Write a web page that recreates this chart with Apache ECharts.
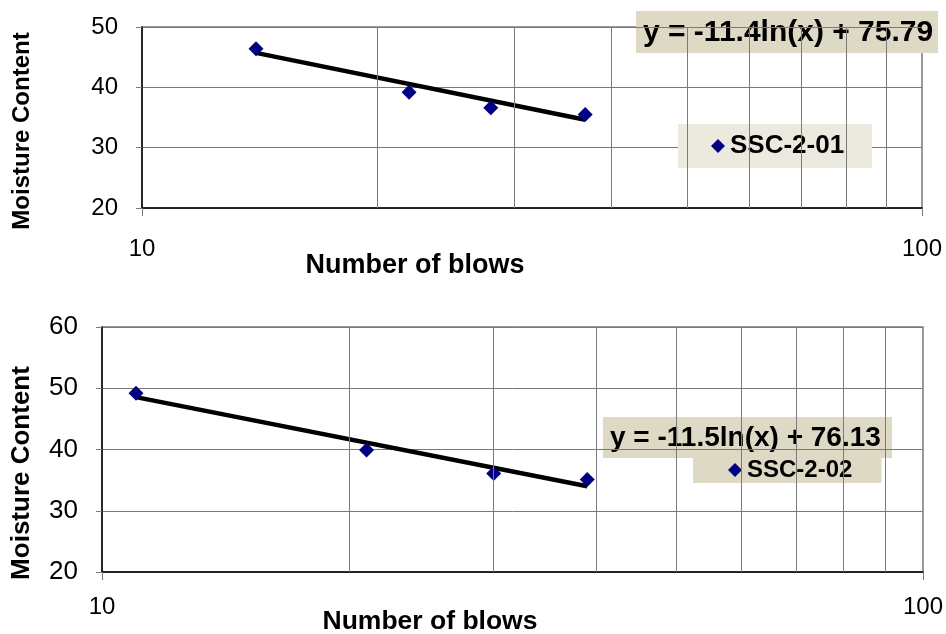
<!DOCTYPE html>
<html>
<head>
<meta charset="utf-8">
<script src="https://cdn.jsdelivr.net/npm/echarts@6/dist/echarts.min.js"></script>
<style>
  html, body { margin: 0; padding: 0; background: #ffffff; }
  #chart { width: 946px; height: 634px; }
</style>
</head>
<body>
<div id="chart"></div>
<script>
// Liquid limit test results: moisture content against number of blows (log scale)
const sampleNames = ['SSC-2-01', 'SSC-2-02'];

const blows1 = [14, 22, 28, 37];
const moisture1 = [46.4, 39.2, 36.6, 35.5];

const blows2 = [11, 21, 30, 39];
const moisture2 = [49.2, 39.9, 36.1, 35.1];

// logarithmic trend y = a*ln(x) + b for each sample
const trendSlope = [-11.4, -11.5];
const trendIntercept = [75.79, 76.13];

// axis ranges and tick values
const xRange = [10, 100];
const xMinorGrid = [20, 30, 40, 50, 60, 70, 80, 90];
const yRange1 = [20, 50];
const yRange2 = [20, 60];
const yStep = 10;

const FONT = '"Liberation Sans", Arial, sans-serif';
const NAVY = '#000080';
const GRID_GRAY = '#7a7a7a';

function pairs(xs, ys) { return xs.map((x, i) => [x, ys[i]]); }

function trendPoints(xs, k) {
  const lo = Math.min.apply(null, xs), hi = Math.max.apply(null, xs);
  return [lo, hi].map(x => [x, trendSlope[k] * Math.log(x) + trendIntercept[k]]);
}

function equationText(k) {
  return 'y = ' + trendSlope[k].toFixed(1) + 'ln(x) + ' + trendIntercept[k].toFixed(2);
}

function xAxisFor(gi, labelMargin, labelSize) {
  return {
    type: 'log', logBase: 10, gridIndex: gi,
    min: xRange[0], max: xRange[1],
    axisLine: { lineStyle: { color: '#000', width: 1.5 } },
    axisTick: { show: true, length: 8, lineStyle: { color: GRID_GRAY } },
    axisLabel: { color: '#000', fontFamily: FONT, fontSize: labelSize, margin: labelMargin },
    splitLine: { show: false }
  };
}

function yAxisFor(gi, range, labelSize) {
  return {
    type: 'value', gridIndex: gi,
    min: range[0], max: range[1], interval: yStep,
    axisLine: { show: true, lineStyle: { color: '#000', width: 1.5 } },
    axisTick: { show: true, length: 6, lineStyle: { color: GRID_GRAY } },
    axisLabel: { color: '#000', fontFamily: FONT, fontSize: labelSize, margin: 24 },
    splitLine: { show: true, lineStyle: { color: GRID_GRAY, width: 1 } }
  };
}

function minorGridSeries(gi) {
  return {
    type: 'line', xAxisIndex: gi, yAxisIndex: gi, data: [], z: 1, silent: true,
    markLine: {
      silent: true, symbol: 'none', animation: false,
      label: { show: false },
      lineStyle: { color: GRID_GRAY, width: 1, type: 'solid', opacity: 1 },
      emphasis: { disabled: true },
      data: xMinorGrid.map(v => ({ xAxis: v }))
    }
  };
}

function trendSeries(gi, xs) {
  return {
    type: 'line', xAxisIndex: gi, yAxisIndex: gi, z: 2,
    data: trendPoints(xs, gi), showSymbol: false, silent: true,
    lineStyle: { color: '#000', width: 4.5, cap: 'butt' }
  };
}

function pointSeries(gi, xs, ys) {
  return {
    name: sampleNames[gi], type: 'scatter', xAxisIndex: gi, yAxisIndex: gi, z: 3,
    data: pairs(xs, ys), symbol: 'diamond', symbolSize: 15,
    itemStyle: { color: NAVY, opacity: 1 }
  };
}

function eqBox(x, y, w, h, k, size) {
  return {
    type: 'group', z: 10,
    children: [
      { type: 'rect', shape: { x: x, y: y, width: w, height: h }, style: { fill: '#DDD9C4' } },
      { type: 'text', x: x + 7, y: y + h / 2 + 1,
        style: { text: equationText(k), font: 'bold ' + size + 'px ' + FONT, fill: '#000',
                 textAlign: 'left', textVerticalAlign: 'middle' } }
    ]
  };
}

function titleText(x, y, text, size, rot) {
  return {
    type: 'text', x: x, y: y, rotation: rot || 0, z: 10,
    style: { text: text, font: 'bold ' + size + 'px ' + FONT, fill: '#000',
             textAlign: 'center', textVerticalAlign: 'middle' }
  };
}

const chart = echarts.init(document.getElementById('chart'), null, { renderer: 'canvas' });

chart.setOption({
  animation: false,
  backgroundColor: '#ffffff',
  grid: [
    { left: 142, top: 27, width: 780, height: 181, show: true, borderColor: GRID_GRAY, borderWidth: 1.5, backgroundColor: 'transparent' },
    { left: 102, top: 327, width: 832, height: 245, show: true, borderColor: GRID_GRAY, borderWidth: 1.5, backgroundColor: 'transparent' }
  ],
  xAxis: [xAxisFor(0, 29, 24), xAxisFor(1, 23, 24)],
  yAxis: [yAxisFor(0, yRange1, 24), yAxisFor(1, yRange2, 26)],
  legend: [
    {
      data: [sampleNames[0]], left: 678, top: 124,
      backgroundColor: '#ECEADF', padding: [9, 28, 9, 33],
      icon: 'diamond', itemWidth: 14, itemHeight: 14,
      itemStyle: { color: NAVY, opacity: 1 },
      textStyle: { fontFamily: FONT, fontWeight: 'bold', fontSize: 26, color: '#000' },
      selectedMode: false
    },
    {
      data: [sampleNames[1]], left: 693, top: 458,
      backgroundColor: '#DDD9C4', padding: [0, 29, 1, 35],
      icon: 'diamond', itemWidth: 14, itemHeight: 14,
      itemStyle: { color: NAVY, opacity: 1 },
      textStyle: { fontFamily: FONT, fontWeight: 'bold', fontSize: 24, color: '#000' },
      selectedMode: false
    }
  ],
  graphic: [
    titleText(22, 131, 'Moisture Content', 24, Math.PI / 2),
    titleText(22, 473, 'Moisture Content', 26, Math.PI / 2),
    titleText(415, 266, 'Number of blows', 27),
    titleText(430, 622, 'Number of blows', 26.5),
    eqBox(636, 11, 302, 42, 0, 30),
    eqBox(603, 417, 289, 41, 1, 28)
  ],
  series: [
    minorGridSeries(0),
    trendSeries(0, blows1),
    pointSeries(0, blows1, moisture1),
    minorGridSeries(1),
    trendSeries(1, blows2),
    pointSeries(1, blows2, moisture2)
  ]
});
</script>
</body>
</html>
